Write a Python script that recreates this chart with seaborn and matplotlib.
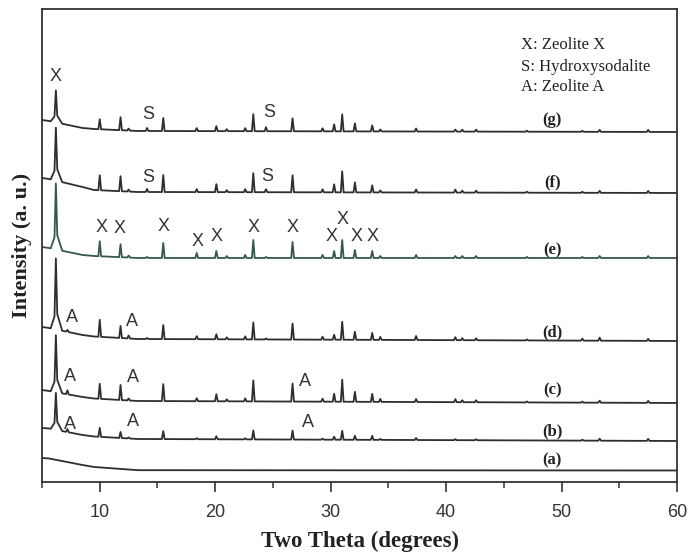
import numpy as np
import pandas as pd
import matplotlib
matplotlib.use("Agg")
import matplotlib.pyplot as plt
import seaborn as sns
from matplotlib.ticker import MultipleLocator

sns.set_theme(style="white")
plt.rcParams["font.family"] = ["Liberation Sans", "DejaVu Sans"]

SERIF = ["Liberation Serif", "DejaVu Serif"]
SANS = ["Liberation Sans", "DejaVu Sans"]

samples = ["(a)", "(b)", "(c)", "(d)", "(e)", "(f)", "(g)"]

# Reflection positions, 2-theta (degrees)
peak_pos = [6.2, 7.2, 10.0, 11.8, 12.5, 14.1, 15.5, 18.4, 20.1, 21.0,
            22.6, 23.3, 24.4, 26.7, 29.3, 30.3, 31.0, 32.1, 33.6, 34.3,
            37.4, 40.8, 41.4, 42.6, 47.0, 51.8, 53.3, 57.5]

# Peak heights above the background of each pattern (a.u.)
h_a = [0] * 28
h_b = [37, 3, 9, 6, 1, 0, 8, 1, 3, 0, 1, 9, 0, 9, 1, 3, 9, 4, 4, 1,
       2, 1, 0, 1, 0, 1, 2, 2]
h_c = [57, 4, 15, 15, 2, 0, 17, 3, 7, 2, 3, 21, 0, 18, 3, 8, 22, 10, 8, 3,
       3, 3, 2, 2, 1, 1, 2, 2]
h_d = [71, 2, 17, 12, 3, 1, 14, 3, 5, 2, 3, 17, 1, 16, 3, 5, 18, 8, 7, 3,
       4, 3, 2, 2, 1, 2, 3, 2]
h_e = [66, 0, 15, 13, 2, 1, 15, 5, 7, 2, 3, 18, 1, 16, 3, 7, 18, 8, 7, 2,
       3, 2, 2, 2, 1, 1, 2, 2]
h_f = [53, 0, 15, 15, 2, 3, 17, 3, 8, 2, 3, 19, 3, 17, 3, 8, 21, 10, 7, 2,
       3, 3, 2, 2, 1, 1, 2, 2]
h_g = [32, 0, 10, 13, 2, 3, 13, 3, 5, 2, 3, 17, 4, 13, 3, 7, 17, 8, 6, 2,
       3, 2, 2, 2, 1, 1, 2, 2]

# Background (stacked offset + amorphous hump) knots
bg_x = [5.0, 5.6, 8.5, 9.5, 13.3, 60.0]
bg_a = [24, 23.5, 17, 15, 11.8, 11.5]
bg_b = [54, 53.5, 47, 45.5, 43, 41]
bg_c = [92, 91, 85, 83.5, 81, 79]
bg_d = [155, 154, 147, 145.5, 143, 141]
bg_e = [235, 234, 227, 226, 224, 224]
bg_f = [304, 303, 295, 292, 290, 289]
bg_g = [362, 361, 354, 353, 351, 350]

heights = [h_a, h_b, h_c, h_d, h_e, h_f, h_g]
backgrounds = [bg_a, bg_b, bg_c, bg_d, bg_e, bg_f, bg_g]

# Phase markers: (symbol, 2-theta, intensity)
marks_x = [("X", 6.2, 405)] + [("X", t, y) for t, y in [
    (10.2, 254), (11.75, 253), (15.5, 255), (18.5, 240), (20.1, 245),
    (23.3, 254), (26.7, 254), (30.1, 245), (31.0, 262), (32.25, 245),
    (33.6, 245)]]
marks_s = [("S", 14.2, 367), ("S", 24.7, 369), ("S", 14.2, 304), ("S", 24.5, 305)]
marks_a = [("A", 7.6, 164), ("A", 12.8, 160),
           ("A", 7.4, 105), ("A", 12.9, 104), ("A", 27.8, 100),
           ("A", 7.4, 57), ("A", 12.9, 60), ("A", 28.0, 59)]

label_x = 49.2
label_y = [22, 51, 92, 150, 232, 300, 362]

legend_lines = ["X: Zeolite X", "S: Hydroxysodalite", "A: Zeolite A"]
legend_y = [437, 415, 395]

# Peak profiles as polyline vertices
MAIN_OFF, MAIN_FRAC = [-0.45, -0.12, 0.0, 0.12, 0.55], [0, 0.18, 1, 0.22, 0]
SMALL_OFF, SMALL_FRAC = [-0.12, 0.0, 0.12], [0, 1, 0]

rows = []
for name, hts, bg in zip(samples, heights, backgrounds):
    xs, fr, ht = list(bg_x), [0.0] * len(bg_x), [0.0] * len(bg_x)
    for i, (p, h) in enumerate(zip(peak_pos, hts)):
        if h <= 0:
            continue
        offs, fracs = (MAIN_OFF, MAIN_FRAC) if i == 0 else (SMALL_OFF, SMALL_FRAC)
        for o, f in zip(offs, fracs):
            xs.append(p + o)
            fr.append(f)
            ht.append(h)
    xs = np.array(xs)
    ys = np.interp(xs, bg_x, bg) + np.array(fr) * np.array(ht)
    for x, y in zip(xs, ys):
        rows.append({"sample": name, "two_theta": x, "intensity": y})
df = pd.DataFrame(rows)

palette = {s: "#2e2e2e" for s in samples}
palette["(e)"] = "#35584b"

fig = plt.figure(figsize=(6.9, 5.54), dpi=100)
ax = fig.add_axes([0.0609, 0.1300, 0.9203, 0.8538])

sns.lineplot(data=df, x="two_theta", y="intensity", hue="sample",
             palette=palette, estimator=None, sort=True, legend=False,
             linewidth=1.3, ax=ax)

ax.set_xlim(5, 60)
ax.set_ylim(0, 473)
ax.xaxis.set_major_locator(MultipleLocator(10))
ax.xaxis.set_minor_locator(MultipleLocator(5))
ax.set_yticks([])
ax.tick_params(axis="x", which="major", direction="out", length=7, width=1.2,
               color="#333333", bottom=True, pad=9, labelsize=13,
               labelcolor="#333333")
ax.tick_params(axis="x", which="minor", direction="out", length=4, width=1.1,
               color="#333333", bottom=True)
for lab in ax.get_xticklabels():
    lab.set_family(SANS)

for sp in ax.spines.values():
    sp.set_visible(True)
    sp.set_color("#333333")
    sp.set_linewidth(1.3)

ax.set_xlabel("Two Theta (degrees)", fontsize=16.5, fontweight="bold",
              family=SERIF, color="#222222", labelpad=7)
ax.set_ylabel("Intensity (a. u.)", fontsize=16, fontweight="bold",
              family=SERIF, color="#222222", labelpad=7)

for sym, t, y in marks_x + marks_s + marks_a:
    ax.text(t, y, sym, ha="center", va="center", fontsize=13,
            family=SANS, color="#333333")

for name, y in zip(samples, label_y):
    ax.text(label_x, y, name, ha="center", va="center", fontsize=12,
            fontweight="bold", family=SERIF, color="#222222")

for line, y in zip(legend_lines, legend_y):
    ax.text(46.5, y, line, ha="left", va="center", fontsize=12,
            family=SERIF, color="#222222")

fig.savefig("out.png", dpi=100, facecolor="white")
